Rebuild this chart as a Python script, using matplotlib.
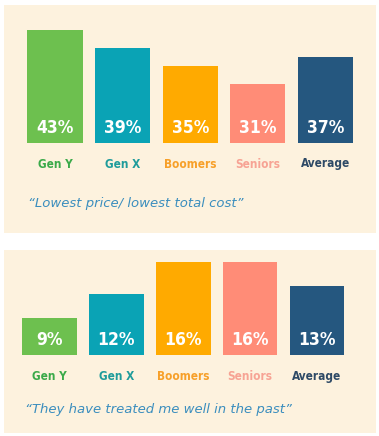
import matplotlib
matplotlib.use("Agg")
import matplotlib.pyplot as plt
from matplotlib.patches import Rectangle

categories = ["Gen Y", "Gen X", "Boomers", "Seniors", "Average"]
lowest_price = [43, 39, 35, 31, 37]
treated_well = [9, 12, 16, 16, 13]
titles = ["\u201cLowest price/ lowest total cost\u201d",
          "\u201cThey have treated me well in the past\u201d"]

bar_colors = ["#6DC04F", "#0AA3B5", "#FFAA00", "#FF8C77", "#25577F"]
label_colors = ["#3BAA4A", "#1F9C9B", "#F7A029", "#F7A394", "#2E4A66"]
bg = "#FDF2DE"
quote_color = "#3B8EBE"

W, H = 379, 436
fig = plt.figure(figsize=(W / 100, H / 100), dpi=100)
fig.patch.set_facecolor("white")

def px_rect(x0, y0, x1, y1):
    # pixel coords from top-left -> figure fraction [l, b, w, h]
    return [x0 / W, (H - y1) / H, (x1 - x0) / W, (y1 - y0) / H]

# panel backgrounds
for (x0, y0, x1, y1) in [(4, 5, 376, 233), (4, 250, 376, 433)]:
    l, b, w, h = px_rect(x0, y0, x1, y1)
    fig.patches.append(Rectangle((l, b), w, h, transform=fig.transFigure,
                                 facecolor=bg, edgecolor="none", zorder=-5))

panels = [
    dict(values=lowest_price, rect=px_rect(21.2, 20, 359.3, 143), ylim=(18, 18 + 123 / 4.5),
         title=titles[0], title_xy=(28, 203)),
    dict(values=treated_well, rect=px_rect(16.0, 255, 350.5, 355), ylim=(4.4, 4.4 + 100 / 8.0),
         title=titles[1], title_xy=(25, 409)),
]

cond = dict(family="DejaVu Sans", fontstretch="condensed", fontweight="bold")

for p in panels:
    ax = fig.add_axes(p["rect"])
    ax.set_zorder(2)
    ax.set_facecolor("none")
    x = list(range(len(categories)))
    ax.bar(x, p["values"], width=0.815, color=bar_colors, zorder=2)
    ax.set_xlim(-0.5, len(categories) - 0.5)
    ax.set_ylim(*p["ylim"])
    ax.axis("off")
    ymin = p["ylim"][0]
    for i, v in enumerate(p["values"]):
        ax.annotate(f"{v}%", (i, ymin), xytext=(0, 15 * 0.72), textcoords="offset points",
                    ha="center", va="center", color="white", fontsize=12.5, **cond,
                    zorder=3, annotation_clip=False)
        ax.annotate(categories[i], (i, ymin), xytext=(0, -21 * 0.72), textcoords="offset points",
                    ha="center", va="center", color=label_colors[i], fontsize=8.5, **cond,
                    annotation_clip=False)
    tx, ty = p["title_xy"]
    fig.text(tx / W, (H - ty) / H, p["title"], ha="left", va="center",
             color=quote_color, fontsize=9.5, style="italic", family="DejaVu Sans")

fig.savefig("out.png", dpi=100, facecolor="white")
